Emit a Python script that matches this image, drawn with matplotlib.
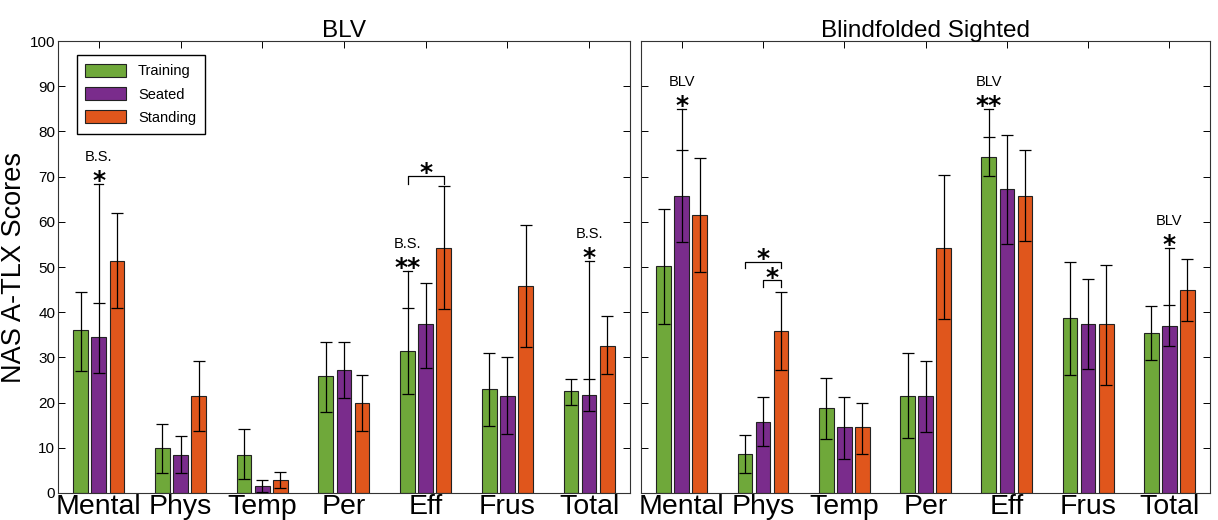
import numpy as np
import matplotlib.pyplot as plt
from matplotlib.patches import Patch

plt.rcParams["font.family"] = ["Liberation Sans", "DejaVu Sans"]

categories = ["Mental", "Phys", "Temp", "Per", "Eff", "Frus", "Total"]
conditions = ["Training", "Seated", "Standing"]
colors = ["#6FA83A", "#7A2C8C", "#E0561C"]

# BLV panel: means, lower and upper error bar ends
blv_mean = [
    [36.0, 10.0, 8.5, 25.9, 31.5, 23.0, 22.6],
    [34.5, 8.5, 1.5, 27.2, 37.3, 21.4, 21.7],
    [51.3, 21.4, 2.9, 20.0, 54.2, 45.8, 32.6],
]
blv_low = [
    [27.0, 4.5, 3.0, 17.9, 22.0, 14.8, 19.5],
    [26.5, 4.5, 0.3, 21.0, 27.7, 13.0, 18.2],
    [41.0, 13.7, 1.0, 13.8, 40.7, 32.2, 26.3],
]
blv_high = [
    [44.5, 15.3, 14.1, 33.5, 41.0, 31.0, 25.3],
    [42.0, 12.7, 2.9, 33.3, 46.5, 30.0, 25.3],
    [62.0, 29.1, 4.7, 26.2, 68.0, 59.3, 39.1],
]

# Blindfolded sighted panel
bs_mean = [
    [50.2, 8.6, 18.7, 21.5, 74.4, 38.7, 35.5],
    [65.7, 15.8, 14.5, 21.5, 67.2, 37.3, 37.0],
    [61.5, 35.8, 14.5, 54.2, 65.7, 37.3, 45.0],
]
bs_low = [
    [37.5, 4.5, 12.0, 12.2, 70.1, 26.0, 29.5],
    [55.5, 10.3, 7.5, 13.6, 55.2, 27.5, 32.5],
    [49.0, 27.2, 8.6, 38.4, 55.7, 24.0, 38.0],
]
bs_high = [
    [62.8, 12.8, 25.5, 31.0, 78.8, 51.2, 41.3],
    [75.9, 21.2, 21.2, 29.2, 79.2, 47.3, 41.5],
    [74.1, 44.5, 20.0, 70.3, 75.9, 50.5, 51.8],
]

# comparisons with the other group: (category, condition, line top, stars, label)
blv_marks = [(0, 1, 68.3, "*", "B.S."), (4, 0, 49.1, "**", "B.S."), (6, 1, 51.4, "*", "B.S.")]
bs_marks = [(0, 1, 85.0, "*", "BLV"), (4, 0, 85.0, "**", "BLV"), (6, 1, 54.2, "*", "BLV")]
# within-group brackets: (category, cond a, cond b, bracket y, leg end y)
blv_brackets = [(4, 0, 2, 70.2, 68.4)]
bs_brackets = [(1, 0, 2, 51.2, 49.8), (1, 1, 2, 47.1, 45.6)]

offset = 0.222
width = 0.18
star_kw = dict(ha="center", va="baseline", fontsize=18, fontweight="bold",
               family="DejaVu Sans")
star_shift = 3.2  # glyph centre sits this far above the baseline (data units)


def draw_panel(ax, mean, low, high, marks, brackets, title):
    x = np.arange(1, len(categories) + 1)
    for i in range(3):
        xs = x + (i - 1) * offset
        m = np.array(mean[i])
        lo = m - np.array(low[i])
        hi = np.array(high[i]) - m
        ax.bar(xs, m, width=width, color=colors[i], edgecolor="#222222",
               linewidth=0.8, zorder=2)
        ax.errorbar(xs, m, yerr=[lo, hi], fmt="none", ecolor="black",
                    elinewidth=0.9, capsize=4, capthick=0.9, zorder=3)

    for c, s, top, stars, lab in marks:
        xc = x[c] + (s - 1) * offset
        base = high[s][c]
        ax.plot([xc, xc], [base, top], color="black", lw=0.9, zorder=3)
        ax.plot([xc - 0.055, xc + 0.055], [top, top], color="black", lw=0.9, zorder=3)
        ax.text(xc, top + 2.3 - star_shift, stars, **star_kw)
        ax.text(xc, top + 6.0, lab, ha="center", va="center", fontsize=10.5)

    for c, a, b, yb, yl in brackets:
        xa = x[c] + (a - 1) * offset
        xb = x[c] + (b - 1) * offset
        ax.plot([xa, xa, xb, xb], [yl, yb, yb, yl], color="black", lw=0.9, zorder=3)
        ax.text((xa + xb) / 2, yb + 2.2 - star_shift, "*", **star_kw)

    ax.set_xlim(0.5, 7.5)
    ax.set_ylim(0, 100)
    ax.set_yticks(np.arange(0, 101, 10))
    ax.set_xticks(x)
    ax.set_xticklabels(categories)
    ax.tick_params(axis="both", direction="in", top=True, right=True,
                   length=5, width=0.7, labelsize=11, pad=2)
    ax.tick_params(axis="x", pad=1, labelsize=20.5)
    ax.set_title(title, fontsize=17.5, pad=3)
    for sp in ax.spines.values():
        sp.set_linewidth(0.8)
        sp.set_color("#333333")


fig = plt.figure(figsize=(12.18, 5.2), dpi=100)
ax1 = fig.add_axes([0.0476, 0.052, 0.4696, 0.869])
ax2 = fig.add_axes([0.5263, 0.052, 0.4672, 0.869])

draw_panel(ax1, blv_mean, blv_low, blv_high, blv_marks, blv_brackets, "BLV")
draw_panel(ax2, bs_mean, bs_low, bs_high, bs_marks, bs_brackets, "Blindfolded Sighted")
ax2.set_yticklabels([])

ax1.set_ylabel("NAS A-TLX Scores", fontsize=19.5, labelpad=2)

handles = [Patch(facecolor=colors[i], edgecolor="#222222", linewidth=0.8, label=conditions[i])
           for i in range(3)]
leg = ax1.legend(handles=handles, loc="upper left", fontsize=10.5, fancybox=False,
                 edgecolor="black", framealpha=1, handlelength=2.8, handleheight=1.0,
                 borderpad=0.6, labelspacing=0.6, bbox_to_anchor=(0.02, 0.985))
leg.get_frame().set_linewidth(1.0)

fig.savefig("out.png", dpi=100)
